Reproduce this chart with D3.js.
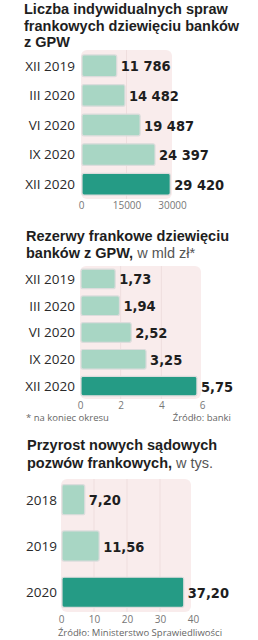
<!DOCTYPE html>
<html>
<head>
<meta charset="utf-8">
<script src="https://cdn.jsdelivr.net/npm/d3@7"></script>
<style>
  body { margin: 0; background: #fff; }
  svg { display: block; }
  .title { font-family: "Liberation Sans", Arial, sans-serif; font-weight: 700; font-size: 14.5px; fill: #1e1e1e; }
  .title .unit { font-weight: 400; fill: #555; }
  .cat { font-family: "Open Sans", sans-serif; font-size: 13.5px; fill: #2a2a2a; }
  .val { font-family: "DejaVu Sans Condensed", "Roboto", sans-serif; font-weight: 700; font-size: 14.5px; fill: #1e1e1e; }
  .tick text { font-family: "Open Sans", sans-serif; font-size: 10px; fill: #777; }
  .note { font-family: "Open Sans", sans-serif; font-size: 9.5px; fill: #666; }
</style>
</head>
<body>
<div id="chart"></div>
<script>
// panel 1: cases
const casesCats = ["XII 2019", "III 2020", "VI 2020", "IX 2020", "XII 2020"];
const casesVals = [11786, 14482, 19487, 24397, 29420];
const casesLabels = ["11 786", "14 482", "19 487", "24 397", "29 420"];
const casesTicks = [0, 15000, 30000];

// panel 2: reserves, bn zl
const resCats = ["XII 2019", "III 2020", "VI 2020", "IX 2020", "XII 2020"];
const resVals = [1.73, 1.94, 2.52, 3.25, 5.75];
const resTicks = [0, 2, 4, 6];

// panel 3: lawsuits, thousands
const suitCats = ["2018", "2019", "2020"];
const suitVals = [7.20, 11.56, 37.20];
const suitTicks = [0, 10, 20, 30, 40];

const W = 258, H = 640;
const light = "#a8d6c4", dark = "#259b85", bg = "#f9ecec";

const svg = d3.select("#chart").append("svg")
  .attr("width", W).attr("height", H);

const fmtComma = d => d.toFixed(2).replace(".", ",");

function panel(o) {
  const g = svg.append("g");

  // title, one text per line
  o.title.forEach((line, i) => {
    const t = g.append("text").attr("class", "title")
      .attr("x", o.titleX).attr("y", o.titleY + i * o.titleLead).text(line);
    if (i === o.title.length - 1 && o.unit) {
      t.append("tspan").attr("class", "unit").text(o.unit);
    }
  });

  const x = d3.scaleLinear().domain(o.domain).range([o.x0, o.x1]);
  const y = d3.scaleBand().domain(o.cats).range([o.yTop, o.yBot]).paddingInner(o.pad).paddingOuter(o.padOuter);

  // pink background
  g.append("rect")
    .attr("x", x(0)).attr("y", o.bgTop)
    .attr("width", o.bgRight - x(0)).attr("height", o.bgBot - o.bgTop)
    .attr("rx", 6).attr("fill", bg);

  // grid
  g.selectAll(".grid").data(o.ticks.slice(1, -1))
    .join("line")
    .attr("x1", d => x(d)).attr("x2", d => x(d))
    .attr("y1", o.bgTop).attr("y2", o.bgBot)
    .attr("stroke", "#efdede").attr("stroke-width", 1);

  // bars
  g.selectAll(".bar").data(o.vals)
    .join("rect")
    .attr("x", x(0) + 1)
    .attr("y", (d, i) => y(o.cats[i]))
    .attr("width", d => x(d) - x(0) - 1)
    .attr("height", y.bandwidth())
    .attr("rx", 2)
    .attr("fill", (d, i) => i === o.vals.length - 1 ? dark : light)
    .attr("stroke", "#dcdcdc").attr("stroke-width", 1.2);

  // category labels
  g.selectAll(".cat").data(o.cats)
    .join("text").attr("class", "cat")
    .attr("x", o.catX).attr("y", d => y(d) + y.bandwidth() / 2)
    .attr("dy", "0.36em").attr("text-anchor", "end")
    .text(d => d);

  // value labels
  g.selectAll(".val").data(o.vals)
    .join("text").attr("class", "val")
    .attr("x", d => x(d) + 4)
    .attr("y", (d, i) => y(o.cats[i]) + y.bandwidth() / 2)
    .attr("dy", "0.38em")
    .text((d, i) => o.labels ? o.labels[i] : fmtComma(d));

  // axis
  const ax = g.append("g")
    .attr("transform", `translate(0,${o.axisY})`)
    .call(d3.axisBottom(x).tickValues(o.ticks).tickSize(0).tickPadding(0).tickFormat(d3.format("d")));
  ax.select(".domain").remove();

  return { g, x, y };
}

panel({
  title: ["Liczba indywidualnych spraw", "frankowych dziewięciu banków", "z GPW"],
  titleX: 24, titleY: 14, titleLead: 16.5,
  cats: casesCats, vals: casesVals, labels: casesLabels, ticks: casesTicks,
  domain: [0, 30000], x0: 81, x1: 172,
  yTop: 52, yBot: 198, pad: 0.27, padOuter: 0.1,
  bgTop: 50, bgBot: 199, bgRight: 172,
  catX: 75, axisY: 202
});

const p2 = panel({
  title: ["Rezerwy frankowe dziewięciu", "banków z GPW,"],
  unit: " w mld zł*",
  titleX: 26, titleY: 241, titleLead: 16.5,
  cats: resCats, vals: resVals, ticks: resTicks,
  domain: [0, 6], x0: 80, x1: 202,
  yTop: 267, yBot: 398, pad: 0.27, padOuter: 0.08,
  bgTop: 266, bgBot: 399, bgRight: 201,
  catX: 75, axisY: 402
});
p2.g.append("text").attr("class", "note").attr("x", 26).attr("y", 421).text("* na koniec okresu");
p2.g.append("text").attr("class", "note").attr("x", 231).attr("y", 421).attr("text-anchor", "end").text("Źródło: banki");

const p3 = panel({
  title: ["Przyrost nowych sądowych", "pozwów frankowych,"],
  unit: " w tys.",
  titleX: 27, titleY: 450, titleLead: 17.5,
  cats: suitCats, vals: suitVals, ticks: suitTicks,
  domain: [0, 40], x0: 61, x1: 193,
  yTop: 480, yBot: 612, pad: 0.35, padOuter: 0.1,
  bgTop: 479, bgBot: 612, bgRight: 191,
  catX: 57, axisY: 616
});
p3.g.append("text").attr("class", "note").attr("x", 140).attr("y", 636).attr("text-anchor", "middle").text("Źródło: Ministerstwo Sprawiedliwości");
</script>
</body>
</html>
